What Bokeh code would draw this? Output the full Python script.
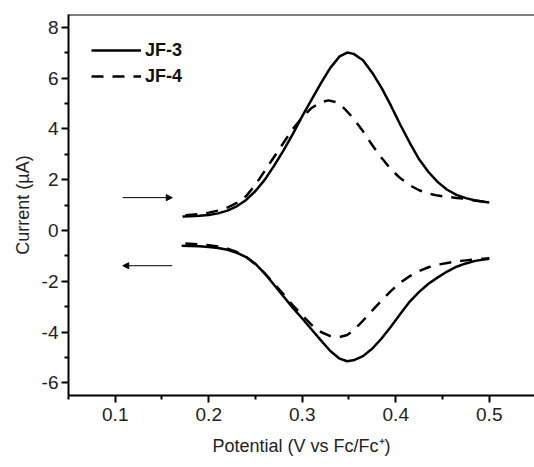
from bokeh.plotting import figure
from bokeh.models import (FixedTicker, Legend, LegendItem, Arrow, NormalHead, Span)
from bokeh.embed import file_html
from bokeh.resources import INLINE

# ---------------- data ----------------
jf3_ox_x = [0.172, 0.18, 0.19, 0.20, 0.21, 0.22, 0.23, 0.24, 0.25, 0.26, 0.27, 0.28,
            0.29, 0.30, 0.31, 0.32, 0.33, 0.34, 0.348, 0.355, 0.365, 0.375, 0.385,
            0.395, 0.405, 0.415, 0.425, 0.435, 0.445, 0.455, 0.465, 0.475, 0.485, 0.5]
jf3_ox_y = [0.55, 0.56, 0.58, 0.61, 0.67, 0.78, 0.95, 1.2, 1.55, 2.0, 2.55, 3.15,
            3.8, 4.5, 5.15, 5.8, 6.4, 6.85, 7.0, 6.95, 6.7, 6.2, 5.6,
            4.9, 4.15, 3.45, 2.8, 2.3, 1.9, 1.6, 1.4, 1.27, 1.18, 1.1]
jf3_red_x = [0.171, 0.18, 0.19, 0.20, 0.21, 0.22, 0.23, 0.24, 0.25, 0.26, 0.27, 0.28,
             0.29, 0.30, 0.31, 0.32, 0.33, 0.34, 0.348, 0.356, 0.365, 0.375, 0.385,
             0.395, 0.405, 0.415, 0.425, 0.435, 0.445, 0.455, 0.465, 0.475, 0.485, 0.5]
jf3_red_y = [-0.6, -0.61, -0.62, -0.65, -0.69, -0.76, -0.88, -1.05, -1.32, -1.7, -2.15, -2.6,
             -3.05, -3.47, -3.9, -4.33, -4.75, -5.05, -5.15, -5.1, -4.95, -4.65, -4.25,
             -3.78, -3.28, -2.8, -2.42, -2.1, -1.85, -1.62, -1.43, -1.3, -1.2, -1.12]

jf4_ox_x = [0.175, 0.19, 0.20, 0.21, 0.22, 0.23, 0.24, 0.25, 0.26, 0.27, 0.28, 0.29,
            0.30, 0.31, 0.32, 0.328, 0.336, 0.345, 0.355, 0.365, 0.375, 0.385, 0.395,
            0.405, 0.415, 0.425, 0.435, 0.445, 0.455, 0.465, 0.475, 0.485, 0.5]
jf4_ox_y = [0.6, 0.64, 0.7, 0.78, 0.9, 1.08, 1.35, 1.8, 2.35, 2.9, 3.45, 4.0,
            4.45, 4.82, 5.05, 5.12, 5.05, 4.8, 4.4, 3.9, 3.35, 2.85, 2.4,
            2.05, 1.78, 1.58, 1.45, 1.37, 1.32, 1.28, 1.24, 1.18, 1.1]
jf4_red_x = [0.175, 0.19, 0.20, 0.21, 0.22, 0.23, 0.24, 0.25, 0.26, 0.27, 0.28, 0.29,
             0.30, 0.31, 0.32, 0.33, 0.34, 0.348, 0.356, 0.365, 0.375, 0.385, 0.395,
             0.405, 0.415, 0.425, 0.435, 0.445, 0.455, 0.465, 0.475, 0.485, 0.5]
jf4_red_y = [-0.52, -0.55, -0.58, -0.63, -0.72, -0.85, -1.05, -1.33, -1.7, -2.1, -2.52, -2.95,
             -3.35, -3.72, -4.0, -4.16, -4.2, -4.12, -3.9, -3.55, -3.15, -2.75, -2.38,
             -2.05, -1.8, -1.6, -1.45, -1.35, -1.28, -1.22, -1.18, -1.14, -1.1]

series_names = ["JF-3", "JF-4"]
x_major_ticks = [0.1, 0.2, 0.3, 0.4, 0.5]
x_minor_ticks = [0.05, 0.15, 0.25, 0.35, 0.45, 0.55]
y_major_ticks = [-6, -4, -2, 0, 2, 4, 6, 8]
y_minor_ticks = [-7, -5, -3, -1, 1, 3, 5, 7]
y_tick_labels = ["-6", "-4", "-2", "0", "2", "4", "6", "8"]

# scan direction arrows (x_start, x_end, y)
arrow_fwd = (0.108, 0.161, 1.29)
arrow_rev = (0.161, 0.108, -1.39)

# ---------------- figure ----------------
FONT = "Liberation Sans"
p = figure(width=534, height=467, x_range=(0.05, 0.5484), y_range=(-6.5, 8.5),
           output_backend="svg", toolbar_location=None,
           min_border_left=68, min_border_right=0, min_border_top=14,
           min_border_bottom=72)
p.outline_line_color = None
p.grid.visible = False
p.background_fill_color = "white"
p.border_fill_color = "white"

p.add_layout(Span(location=8.5, dimension="width", line_color="black", line_width=2))

for ax in (p.xaxis[0], p.yaxis[0]):
    ax.axis_line_width = 2
    ax.axis_line_color = "black"
    ax.major_tick_line_width = 2
    ax.minor_tick_line_width = 2
    ax.major_tick_out = 7
    ax.major_tick_in = 0
    ax.minor_tick_out = 4
    ax.minor_tick_in = 0
    ax.major_label_text_font = FONT
    ax.major_label_text_font_size = "19px"
    ax.major_label_text_color = "#222222"
    ax.axis_label_text_font = FONT
    ax.axis_label_text_font_size = "18px"
    ax.axis_label_text_font_style = "normal"
    ax.axis_label_text_color = "#222222"

p.xaxis.ticker = FixedTicker(ticks=x_major_ticks, minor_ticks=x_minor_ticks)
p.yaxis.ticker = FixedTicker(ticks=y_major_ticks, minor_ticks=y_minor_ticks)
p.xaxis.major_label_overrides = {t: f"{t:.1f}" for t in x_major_ticks}
p.yaxis.major_label_overrides = dict(zip(y_major_ticks, y_tick_labels))
p.xaxis.major_label_standoff = 5
p.yaxis.major_label_standoff = 3
p.xaxis.axis_label = "Potential (V vs Fc/Fc\u207a)"
p.yaxis.axis_label = "Current (\u00b5A)"
p.xaxis.axis_label_standoff = 12
p.yaxis.axis_label_standoff = 6

r3a = p.line(jf3_ox_x, jf3_ox_y, line_color="black", line_width=2.5)
p.line(jf3_red_x, jf3_red_y, line_color="black", line_width=2.5)
r4a = p.line(jf4_ox_x, jf4_ox_y, line_color="black", line_width=2.5, line_dash="12 9")
p.line(jf4_red_x, jf4_red_y, line_color="black", line_width=2.5, line_dash="12 9")

for (xs, xe, yy) in (arrow_fwd, arrow_rev):
    p.add_layout(Arrow(x_start=xs, y_start=yy, x_end=xe, y_end=yy,
                       line_color="black", line_width=1,
                       end=NormalHead(size=6, fill_color="black", line_color="black")))

legend = Legend(items=[LegendItem(label=series_names[0], renderers=[r3a]),
                       LegendItem(label=series_names[1], renderers=[r4a])],
                location="top_left", margin=23, padding=10, spacing=0,
                glyph_width=50, glyph_height=26, label_height=26,
                label_standoff=4, border_line_color=None,
                background_fill_alpha=0,
                label_text_font=FONT, label_text_font_size="18px",
                label_text_font_style="bold", label_text_color="#111111")
p.add_layout(legend)

open("out.html", "w").write(file_html(p, INLINE))
